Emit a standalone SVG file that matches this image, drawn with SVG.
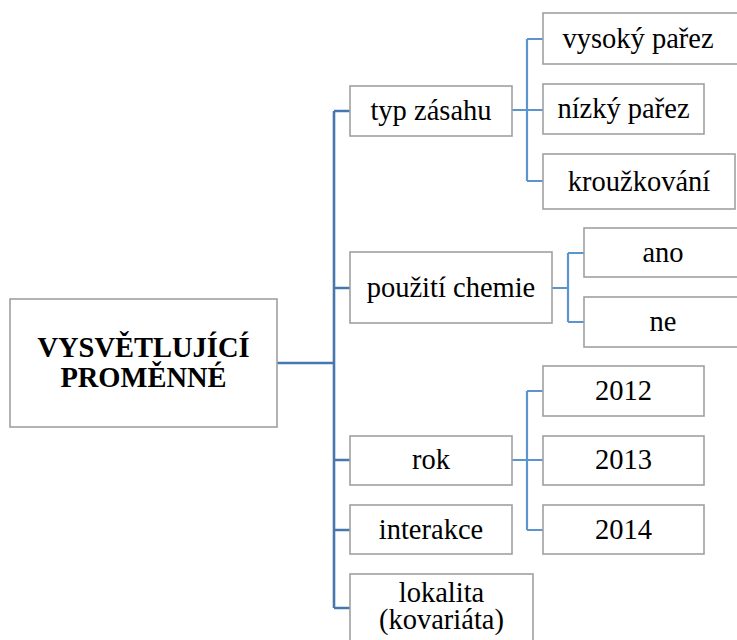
<svg xmlns="http://www.w3.org/2000/svg" width="737" height="640" viewBox="0 0 737 640">
<style>
.box{fill:#fff;stroke:#a0a0a0;stroke-width:1.6}
.t{font-size:28.5px;fill:#000;text-anchor:middle}
.b{font-weight:bold}
.trunk{fill:none;stroke:#4677b0;stroke-width:2.6}
.br{fill:none;stroke:#5b95d0;stroke-width:2.2}
</style>
<rect width="737" height="640" fill="#fff"/>
<g id="connectors">
<path class="trunk" d="M277,363 H334 M334,111 V608 M334,111 H350 M334,288 H350 M334,460 H350 M334,530 H350 M334,608 H350"/>
<path class="br" d="M512,110 H543 M527,39 V181 M527,39 H543 M527,181 H543"/>
<path class="br" d="M552,288 H568 M568,253 V322 M568,253 H584 M568,322 H584"/>
<path class="br" d="M512,460 H543 M527,391 V530 M527,391 H543 M527,530 H543"/>
</g>
<g font-family="'Liberation Serif', 'Times New Roman', 'DejaVu Serif', serif">
<g id="main"><rect class="box" x="10" y="299" width="267" height="128"/>
<text class="t b" x="143.5" y="357">VYSVĚTLUJÍCÍ</text><text class="t b" x="143.5" y="387">PROMĚNNÉ</text></g>
<g id="typ"><rect class="box" x="350" y="86" width="162" height="50"/><text class="t" x="431" y="120">typ zásahu</text></g>
<g id="vysoky"><rect class="box" x="543" y="13" width="200" height="51"/><text class="t" x="638" y="48">vysoký pařez</text></g>
<g id="nizky"><rect class="box" x="543" y="84" width="161" height="50"/><text class="t" x="623.5" y="118">nízký pařez</text></g>
<g id="krouzkovani"><rect class="box" x="543" y="154" width="192" height="55"/><text class="t" x="639" y="191">kroužkování</text></g>
<g id="chemie"><rect class="box" x="350" y="252" width="202" height="71"/><text class="t" x="451" y="297">použití chemie</text></g>
<g id="ano"><rect class="box" x="584" y="228" width="160" height="49"/><text class="t" x="663" y="262">ano</text></g>
<g id="ne"><rect class="box" x="584" y="297" width="160" height="50"/><text class="t" x="663" y="331">ne</text></g>
<g id="rok"><rect class="box" x="350" y="436" width="162" height="49"/><text class="t" x="431" y="469">rok</text></g>
<g id="y2012"><rect class="box" x="543" y="366" width="161" height="50"/><text class="t" x="623.5" y="400">2012</text></g>
<g id="y2013"><rect class="box" x="543" y="436" width="161" height="49"/><text class="t" x="623.5" y="469">2013</text></g>
<g id="y2014"><rect class="box" x="543" y="505" width="161" height="49"/><text class="t" x="623.5" y="539">2014</text></g>
<g id="interakce"><rect class="box" x="350" y="505" width="162" height="49"/><text class="t" x="431" y="539">interakce</text></g>
<g id="lokalita"><rect class="box" x="350" y="574" width="183" height="80"/><text class="t" x="441.5" y="602">lokalita</text><text class="t" x="441.5" y="629">(kovariáta)</text></g>
</g>
</svg>
